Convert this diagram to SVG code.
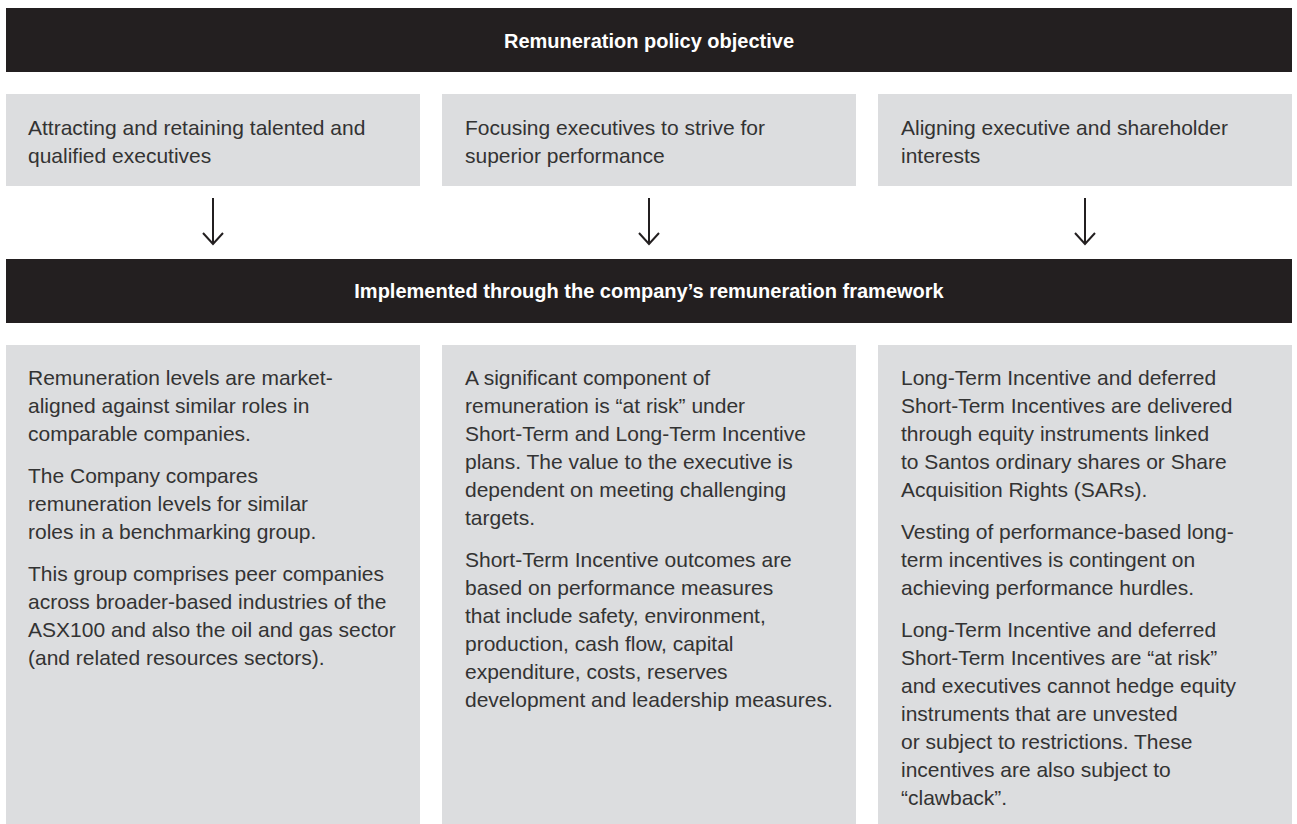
<svg xmlns="http://www.w3.org/2000/svg" width="1297" height="824" viewBox="0 0 1297 824">
<defs>
<style>
.bar{fill:#231f20}
.box{fill:#dcdddf}
.title{font-family:"Liberation Sans",Arial,sans-serif;font-weight:bold;font-size:20px;fill:#ffffff;text-anchor:middle}
.body{font-family:"Liberation Sans",Arial,sans-serif;font-size:21px;fill:#333333}
.arrow{fill:none;stroke:#231f20;stroke-width:2}
</style>
</defs>
<rect width="1297" height="824" fill="#ffffff"/>
<g id="objective-bar">
<rect class="bar" x="6" y="8" width="1286" height="64"/>
<text class="title" x="649" y="48">Remuneration policy objective</text>
</g>
<g id="objective-1">
<rect class="box" x="6" y="94" width="414" height="92"/>
<text class="body" x="28" y="134.5">Attracting and retaining talented and</text>
<text class="body" x="28" y="162.5">qualified executives</text>
</g>
<g id="objective-2">
<rect class="box" x="442" y="94" width="414" height="92"/>
<text class="body" x="465" y="134.5">Focusing executives to strive for</text>
<text class="body" x="465" y="162.5">superior performance</text>
</g>
<g id="objective-3">
<rect class="box" x="878" y="94" width="414" height="92"/>
<text class="body" x="901" y="134.5">Aligning executive and shareholder</text>
<text class="body" x="901" y="162.5">interests</text>
</g>
<g id="connectors">
<path class="arrow" d="M213 198V244M203 233L213 244L223 233"/>
<path class="arrow" d="M649 198V244M639 233L649 244L659 233"/>
<path class="arrow" d="M1085 198V244M1075 233L1085 244L1095 233"/>
</g>
<g id="framework-bar">
<rect class="bar" x="6" y="259" width="1286" height="64"/>
<text class="title" x="649" y="298">Implemented through the company’s remuneration framework</text>
</g>
<g id="framework-1">
<rect class="box" x="6" y="345" width="414" height="479"/>
<text class="body" x="28" y="385">Remuneration levels are market-</text>
<text class="body" x="28" y="413">aligned against similar roles in</text>
<text class="body" x="28" y="441">comparable companies.</text>
<text class="body" x="28" y="483">The Company compares</text>
<text class="body" x="28" y="511">remuneration levels for similar</text>
<text class="body" x="28" y="539">roles in a benchmarking group.</text>
<text class="body" x="28" y="581">This group comprises peer companies</text>
<text class="body" x="28" y="609">across broader-based industries of the</text>
<text class="body" x="28" y="637">ASX100 and also the oil and gas sector</text>
<text class="body" x="28" y="665">(and related resources sectors).</text>
</g>
<g id="framework-2">
<rect class="box" x="442" y="345" width="414" height="479"/>
<text class="body" x="465" y="385">A significant component of</text>
<text class="body" x="465" y="413">remuneration is “at risk” under</text>
<text class="body" x="465" y="441">Short-Term and Long-Term Incentive</text>
<text class="body" x="465" y="469">plans. The value to the executive is</text>
<text class="body" x="465" y="497">dependent on meeting challenging</text>
<text class="body" x="465" y="525">targets.</text>
<text class="body" x="465" y="567">Short-Term Incentive outcomes are</text>
<text class="body" x="465" y="595">based on performance measures</text>
<text class="body" x="465" y="623">that include safety, environment,</text>
<text class="body" x="465" y="651">production, cash flow, capital</text>
<text class="body" x="465" y="679">expenditure, costs, reserves</text>
<text class="body" x="465" y="707">development and leadership measures.</text>
</g>
<g id="framework-3">
<rect class="box" x="878" y="345" width="414" height="479"/>
<text class="body" x="901" y="385">Long-Term Incentive and deferred</text>
<text class="body" x="901" y="413">Short-Term Incentives are delivered</text>
<text class="body" x="901" y="441">through equity instruments linked</text>
<text class="body" x="901" y="469">to Santos ordinary shares or Share</text>
<text class="body" x="901" y="497">Acquisition Rights (SARs).</text>
<text class="body" x="901" y="539">Vesting of performance-based long-</text>
<text class="body" x="901" y="567">term incentives is contingent on</text>
<text class="body" x="901" y="595">achieving performance hurdles.</text>
<text class="body" x="901" y="637">Long-Term Incentive and deferred</text>
<text class="body" x="901" y="665">Short-Term Incentives are “at risk”</text>
<text class="body" x="901" y="693">and executives cannot hedge equity</text>
<text class="body" x="901" y="721">instruments that are unvested</text>
<text class="body" x="901" y="749">or subject to restrictions. These</text>
<text class="body" x="901" y="777">incentives are also subject to</text>
<text class="body" x="901" y="805">“clawback”.</text>
</g>
</svg>
